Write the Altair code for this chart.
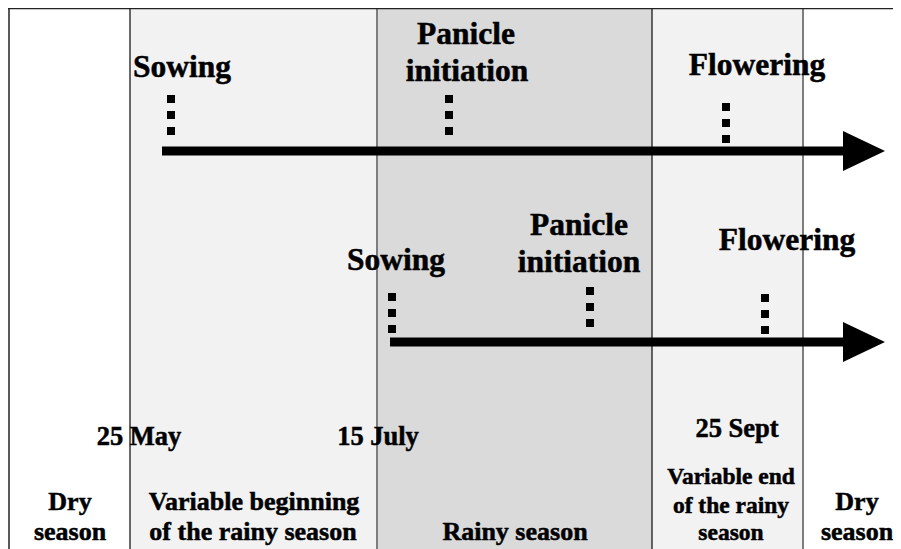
import altair as alt
import pandas as pd

# ---- diagram geometry in diagram units (0,0 = top-left corner of frame) ----
W, H = 885, 541

# shaded season bands
band_start = [122, 369, 644]
band_end = [369, 644, 795]
band_kind = ["variable", "rainy", "variable"]

# vertical season boundaries
bound_x = [122, 369, 644, 795]
bound_kind = ["dark", "grey", "dark", "grey"]

# two sowing scenarios: arrow shafts
arrow_y = [143, 334]
arrow_start = [154, 382]
arrow_end = [845, 845]
arrow_head = [856, 856]

# stage markers (dotted ticks): x, top, bottom
marker_x = [163, 441, 718, 384, 582, 757]
marker_top = [87, 87, 95, 285, 279, 286]
marker_bottom = [127, 127, 135, 325, 319, 326]

# text labels
labels = ["Sowing", "Panicle", "initiation", "Flowering",
          "Sowing", "Panicle", "initiation", "Flowering",
          "25 May", "15 July", "25 Sept",
          "Dry", "season", "Variable beginning", "of the rainy season",
          "Rainy season", "Dry", "season",
          "Variable end", "of the rainy", "season"]
label_x = [174, 458, 459, 749,
           388, 571, 571, 779,
           131, 370, 729,
           62, 62, 246, 245,
           507, 849, 849,
           723, 723, 723]
label_y = [69, 36, 73, 67,
           262, 227, 264, 242,
           437, 437, 429,
           502, 532, 502, 532,
           532, 502, 532,
           476, 505, 532]
label_group = ["stage"] * 8 + ["date"] * 3 + ["season"] * 7 + ["end"] * 3
group_size = {"stage": 31.5, "date": 26.5, "season": 26, "end": 23.5}

xs = alt.Scale(domain=[0, W], nice=False, zero=False)
ys = alt.Scale(domain=[0, H], nice=False, zero=False, reverse=True)

bands = pd.DataFrame({"x": band_start, "x2": band_end, "kind": band_kind,
                      "y": [0] * 3, "y2": [H] * 3})
bounds = pd.DataFrame({"x": bound_x, "kind": bound_kind,
                       "y": [0] * 4, "y2": [H] * 4})
frame = pd.DataFrame({"x": [0, 1], "x2": [W, 1], "y": [0.5, 0], "y2": [0.5, H]})
shafts = pd.DataFrame({"x": arrow_start, "x2": arrow_end, "y": arrow_y})
heads = pd.DataFrame({"x": arrow_head, "y": arrow_y})
markers = pd.DataFrame({"x": marker_x, "y": marker_top, "y2": marker_bottom})
texts = pd.DataFrame({"label": labels, "x": label_x, "y": label_y, "group": label_group})

band_layer = alt.Chart(bands).mark_rect().encode(
    x=alt.X("x:Q", scale=xs, axis=None), x2="x2:Q",
    y=alt.Y("y:Q", scale=ys, axis=None), y2="y2:Q",
    color=alt.Color("kind:N", scale=alt.Scale(domain=["variable", "rainy"],
                                              range=["#f2f2f2", "#dadada"]), legend=None),
)

bound_layer = alt.Chart(bounds).mark_rule().encode(
    x=alt.X("x:Q", scale=xs, axis=None),
    y=alt.Y("y:Q", scale=ys, axis=None), y2="y2:Q",
    color=alt.Color("kind:N", scale=alt.Scale(domain=["dark", "grey"],
                                              range=["#1a1a1a", "#7d7d7d"]), legend=None),
    strokeWidth=alt.StrokeWidth("kind:N", scale=alt.Scale(domain=["dark", "grey"], range=[1.3, 2]),
                                legend=None),
)

frame_layer = alt.Chart(frame).mark_rule(color="#222222", strokeWidth=1.5).encode(
    x=alt.X("x:Q", scale=xs, axis=None), x2="x2:Q",
    y=alt.Y("y:Q", scale=ys, axis=None), y2="y2:Q",
)

shaft_layer = alt.Chart(shafts).mark_rule(color="black", strokeWidth=9).encode(
    x=alt.X("x:Q", scale=xs, axis=None), x2="x2:Q",
    y=alt.Y("y:Q", scale=ys, axis=None),
)

head_layer = alt.Chart(heads).mark_point(
    shape="M-1.05,-1L1.05,0L-1.05,1Z", filled=True, size=1600, color="black", opacity=1
).encode(
    x=alt.X("x:Q", scale=xs, axis=None),
    y=alt.Y("y:Q", scale=ys, axis=None),
)

marker_layer = alt.Chart(markers).mark_rule(color="black", strokeWidth=8, strokeDash=[8, 8]).encode(
    x=alt.X("x:Q", scale=xs, axis=None),
    y=alt.Y("y:Q", scale=ys, axis=None), y2="y2:Q",
)

text_layers = []
for g, fs in group_size.items():
    text_layers.append(
        alt.Chart(texts[texts.group == g]).mark_text(
            font="Liberation Serif", fontWeight="bold", fontSize=fs,
            align="center", baseline="alphabetic", fill="black",
            stroke="black", strokeWidth=0.5
        ).encode(
            x=alt.X("x:Q", scale=xs, axis=None),
            y=alt.Y("y:Q", scale=ys, axis=None),
            text="label:N",
        )
    )

chart = alt.layer(
    band_layer, bound_layer, frame_layer, shaft_layer, head_layer, marker_layer, *text_layers
).resolve_scale(color="independent").properties(
    width=W, height=H, padding=0, autosize=alt.AutoSizeParams(type="none")
).configure_view(stroke=None)

chart.save("out.html", embed_options={"renderer": "svg", "actions": False})
